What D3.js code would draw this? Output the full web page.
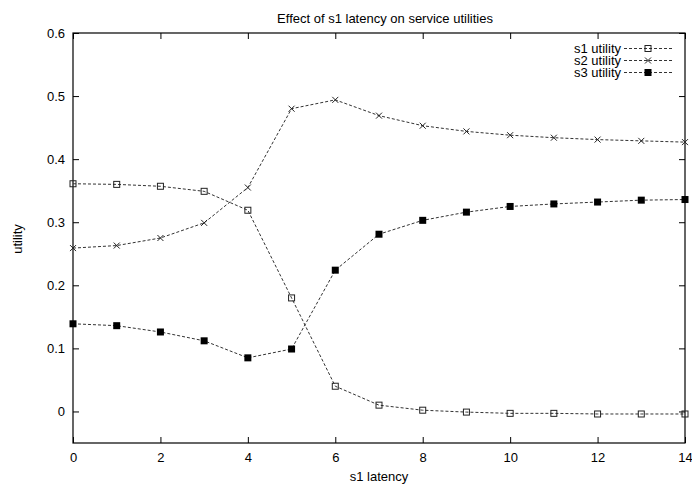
<!DOCTYPE html>
<html>
<head>
<meta charset="utf-8">
<script src="https://cdn.jsdelivr.net/npm/d3@7"></script>
<style>
  body { margin: 0; background: #fff; }
  svg { font-family: "Liberation Sans", Arial, sans-serif; }
</style>
</head>
<body>
<svg width="692" height="488"></svg>
<script>
const latency = [0, 1, 2, 3, 4, 5, 6, 7, 8, 9, 10, 11, 12, 13, 14];
const s1Utility = [0.361, 0.360, 0.357, 0.349, 0.319, 0.180, 0.040, 0.010, 0.002, -0.001, -0.003, -0.003, -0.004, -0.004, -0.004];
const s2Utility = [0.259, 0.263, 0.275, 0.299, 0.355, 0.480, 0.494, 0.469, 0.453, 0.444, 0.438, 0.434, 0.431, 0.429, 0.427];
const s3Utility = [0.139, 0.136, 0.126, 0.112, 0.085, 0.099, 0.224, 0.281, 0.303, 0.316, 0.325, 0.329, 0.332, 0.335, 0.336];
const seriesNames = ['s1 utility', 's2 utility', 's3 utility'];
const xTicks = [0, 2, 4, 6, 8, 10, 12, 14];
const yTicks = [0, 0.1, 0.2, 0.3, 0.4, 0.5, 0.6];

const plotLeft = 73, plotRight = 685, plotTop = 33, plotBottom = 443;
const fontSize = 13;

const svg = d3.select('svg');

const x = d3.scaleLinear().domain([0, 14]).range([plotLeft, plotRight]);
const y = d3.scaleLinear().domain([-0.05, 0.6]).range([plotBottom, plotTop]);

const fmt = d3.format('~g');

const styleAxis = g => {
  g.select('.domain').remove();
  g.selectAll('.tick line').attr('stroke', '#000');
  g.selectAll('.tick text')
    .attr('fill', '#000')
    .style('font-size', fontSize + 'px')
    .style('font-family', '"Liberation Sans", Arial, sans-serif');
};

// bottom + top
svg.append('g')
    .attr('transform', `translate(0, ${plotBottom})`)
    .call(d3.axisBottom(x).tickValues(xTicks).tickSize(-6).tickPadding(10).tickFormat(fmt))
    .call(styleAxis);
svg.append('g')
    .attr('transform', `translate(0, ${plotTop})`)
    .call(d3.axisTop(x).tickValues(xTicks).tickSize(-6).tickFormat(''))
    .call(styleAxis);

// left + right
svg.append('g')
    .attr('transform', `translate(${plotLeft}, 0)`)
    .call(d3.axisLeft(y).tickValues(yTicks).tickSize(-6).tickPadding(8).tickFormat(fmt))
    .call(styleAxis);
svg.append('g')
    .attr('transform', `translate(${plotRight}, 0)`)
    .call(d3.axisRight(y).tickValues(yTicks).tickSize(-6).tickFormat(''))
    .call(styleAxis);

svg.append('rect')
    .attr('x', plotLeft)
    .attr('y', plotTop)
    .attr('width', plotRight - plotLeft)
    .attr('height', plotBottom - plotTop)
    .attr('fill', 'none')
    .attr('stroke', '#000')
    .attr('stroke-width', 1.2);

svg.append('text')
    .attr('x', 385)
    .attr('y', 23)
    .attr('text-anchor', 'middle')
    .style('font-size', fontSize + 'px')
    .text('Effect of s1 latency on service utilities');

svg.append('text')
    .attr('x', (plotLeft + plotRight) / 2)
    .attr('y', 481)
    .attr('text-anchor', 'middle')
    .style('font-size', fontSize + 'px')
    .text('s1 latency');

svg.append('text')
    .attr('transform', 'translate(22, 239) rotate(-90)')
    .attr('text-anchor', 'middle')
    .style('font-size', fontSize + 'px')
    .text('utility');

const line = d3.line()
    .x(d => x(d[0]))
    .y(d => y(d[1]));

const drawMarker = (g, kind, cx, cy) => {
  if (kind === 'open') {
    g.append('rect')
      .attr('x', cx - 3).attr('y', cy - 3)
      .attr('width', 6).attr('height', 6)
      .attr('fill', 'none').attr('stroke', '#222').attr('stroke-width', 1);
  } else if (kind === 'filled') {
    g.append('rect')
      .attr('x', cx - 3.5).attr('y', cy - 3.5)
      .attr('width', 7).attr('height', 7)
      .attr('fill', '#000');
  } else {
    g.append('path')
      .attr('d', `M${cx - 3},${cy - 3}L${cx + 3},${cy + 3}M${cx - 3},${cy + 3}L${cx + 3},${cy - 3}`)
      .attr('stroke', '#222').attr('stroke-width', 1);
  }
};

const series = [
  { name: seriesNames[0], values: s1Utility, marker: 'open' },
  { name: seriesNames[1], values: s2Utility, marker: 'cross' },
  { name: seriesNames[2], values: s3Utility, marker: 'filled' },
];

series.forEach((s, i) => {
  const pts = latency.map((l, j) => [l, s.values[j]]);
  svg.append('path')
      .datum(pts)
      .attr('d', line)
      .attr('fill', 'none')
      .attr('stroke', '#333')
      .attr('stroke-width', 1)
      .attr('stroke-dasharray', '3,2');

  const g = svg.append('g');
  pts.forEach(p => drawMarker(g, s.marker, x(p[0]), y(p[1])));

  // legend
  const ly = 48.5 + i * 12;
  svg.append('text')
      .attr('x', 621)
      .attr('y', ly + 4.5)
      .attr('text-anchor', 'end')
      .style('font-size', fontSize + 'px')
      .text(s.name);
  svg.append('line')
      .attr('x1', 624).attr('x2', 673)
      .attr('y1', ly).attr('y2', ly)
      .attr('stroke', '#333')
      .attr('stroke-dasharray', '3,2');
  drawMarker(svg.append('g'), s.marker, 648, ly);
});
</script>
</body>
</html>
